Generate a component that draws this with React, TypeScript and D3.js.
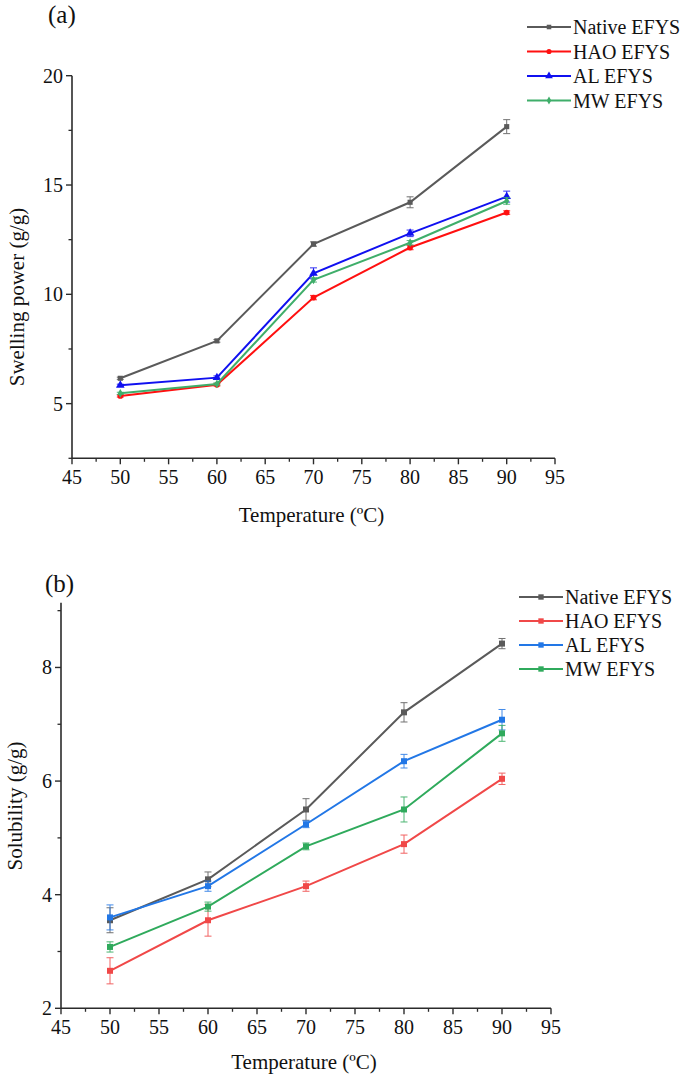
import React from "react";
import * as d3 from "d3";

// ---------- data ----------
const temps = [50, 60, 70, 80, 90];
const seriesNames = ["Native EFYS", "HAO EFYS", "AL EFYS", "MW EFYS"];

// (a) Swelling power (g/g)
const swellNative = [6.16, 7.87, 12.3, 14.21, 17.67];
const swellHAO = [5.35, 5.86, 9.85, 12.14, 13.74];
const swellAL = [5.84, 6.19, 10.96, 12.79, 14.47];
const swellMW = [5.47, 5.9, 10.66, 12.36, 14.27];
const swellNativeErr = [0.05, 0.06, 0.1, 0.25, 0.32];
const swellHAOErr = [0.05, 0.05, 0.1, 0.1, 0.08];
const swellALErr = [0.05, 0.08, 0.25, 0.15, 0.25];
const swellMWErr = [0.05, 0.05, 0.1, 0.1, 0.15];

// (b) Solubility (g/g)
const solNative = [3.55, 4.27, 5.5, 7.21, 8.42];
const solHAO = [2.66, 3.55, 4.15, 4.89, 6.04];
const solAL = [3.6, 4.15, 5.24, 6.35, 7.08];
const solMW = [3.08, 3.79, 4.85, 5.5, 6.84];
const solNativeErr = [0.22, 0.13, 0.19, 0.17, 0.09];
const solHAOErr = [0.23, 0.28, 0.09, 0.16, 0.1];
const solALErr = [0.22, 0.09, 0.06, 0.12, 0.18];
const solMWErr = [0.09, 0.08, 0.06, 0.22, 0.14];

const xTicks = [45, 50, 55, 60, 65, 70, 75, 80, 85, 90, 95];
const swellTicks = [5, 10, 15, 20];
const solTicks = [2, 4, 6, 8];

const FONT = "Liberation Serif, Times New Roman, serif";

type Series = {
  name: string;
  values: number[];
  errs: number[];
  color: string;
  symbol: d3.SymbolType;
  size: number;
};

type PanelProps = {
  label: string;
  yTitle: string;
  x0: number;
  x1: number;
  yTop: number;
  yBottom: number;
  yDomain: [number, number];
  yTickVals: number[];
  yMinorStep: number;
  series: Series[];
  legendX: number;
  legendY: number;
  legendGap: number;
  labelPos: [number, number];
  yTitlePos: [number, number];
  xTitleY: number;
  lineWidth: number;
};

function Panel(p: PanelProps) {
  const x = d3.scaleLinear().domain([45, 95]).range([p.x0, p.x1]);
  const y = d3.scaleLinear().domain(p.yDomain).range([p.yBottom, p.yTop]);
  const line = d3
    .line<number>()
    .x((_, i) => x(temps[i]))
    .y((v) => y(v));
  const minorX = d3.range(45, 95.01, 2.5).filter((v) => !xTicks.includes(v));
  const minorY = d3
    .range(p.yDomain[0], p.yDomain[1] + 0.001, p.yMinorStep)
    .filter((v) => !p.yTickVals.some((t) => Math.abs(t - v) < 1e-6));
  const axisColor = "#2b2b2b";
  return (
    <g style={{ fontFamily: FONT }}>
      <text x={p.labelPos[0]} y={p.labelPos[1]} fontSize={25} fill="#111">
        {p.label}
      </text>
      {/* axes */}
      <line x1={p.x0} x2={p.x0} y1={p.yTop} y2={p.yBottom} stroke={axisColor} strokeWidth={1.6} />
      <line x1={p.x0} x2={p.x1} y1={p.yBottom} y2={p.yBottom} stroke={axisColor} strokeWidth={1.6} />
      {xTicks.map((t) => (
        <g key={"xt" + t}>
          <line x1={x(t)} x2={x(t)} y1={p.yBottom} y2={p.yBottom + 6} stroke={axisColor} strokeWidth={1.4} />
          <text x={x(t)} y={p.yBottom + 26} textAnchor="middle" fontSize={20} fill="#111">
            {t}
          </text>
        </g>
      ))}
      {minorX.map((t) => (
        <line key={"xm" + t} x1={x(t)} x2={x(t)} y1={p.yBottom} y2={p.yBottom + 3.5} stroke={axisColor} strokeWidth={1.3} />
      ))}
      {p.yTickVals.map((t) => (
        <g key={"yt" + t}>
          <line x1={p.x0 - 6} x2={p.x0} y1={y(t)} y2={y(t)} stroke={axisColor} strokeWidth={1.4} />
          <text x={p.x0 - 9} y={y(t) + 7} textAnchor="end" fontSize={20} fill="#111">
            {t}
          </text>
        </g>
      ))}
      {minorY.map((t) => (
        <line key={"ym" + t} x1={p.x0 - 3.5} x2={p.x0} y1={y(t)} y2={y(t)} stroke={axisColor} strokeWidth={1.3} />
      ))}
      <text
        transform={`translate(${p.yTitlePos[0]},${p.yTitlePos[1]}) rotate(-90)`}
        textAnchor="middle"
        fontSize={21}
        fill="#111"
      >
        {p.yTitle}
      </text>
      <text x={(p.x0 + p.x1) / 2 - 2} y={p.xTitleY} textAnchor="middle" fontSize={21} fill="#111">
        Temperature (ºC)
      </text>
      {/* series */}
      {p.series.map((s) => (
        <g key={s.name}>
          <path d={line(s.values) || ""} fill="none" stroke={s.color} strokeWidth={p.lineWidth} />
          {s.values.map((v, i) => {
            const cx = x(temps[i]);
            const e = s.errs[i];
            return (
              <g key={i} stroke={s.color} strokeWidth={1} opacity={0.85}>
                <line x1={cx} x2={cx} y1={y(v - e)} y2={y(v + e)} />
                <line x1={cx - 3.5} x2={cx + 3.5} y1={y(v - e)} y2={y(v - e)} />
                <line x1={cx - 3.5} x2={cx + 3.5} y1={y(v + e)} y2={y(v + e)} />
              </g>
            );
          })}
          {s.values.map((v, i) => (
            <path
              key={"m" + i}
              d={d3.symbol().type(s.symbol).size(s.size)() || ""}
              transform={`translate(${x(temps[i])},${y(v)})`}
              fill={s.color}
            />
          ))}
        </g>
      ))}
      {/* legend */}
      {p.series.map((s, i) => {
        const ly = p.legendY + i * p.legendGap;
        return (
          <g key={"lg" + s.name}>
            <line x1={p.legendX} x2={p.legendX + 44} y1={ly} y2={ly} stroke={s.color} strokeWidth={p.lineWidth} />
            <path
              d={d3.symbol().type(s.symbol).size(s.size * 0.8)() || ""}
              transform={`translate(${p.legendX + 22},${ly})`}
              fill={s.color}
            />
            <text x={p.legendX + 46} y={ly + 7} fontSize={20} fill="#111">
              {s.name}
            </text>
          </g>
        );
      })}
    </g>
  );
}

export default function App() {
  const seriesA: Series[] = [
    { name: seriesNames[0], values: swellNative, errs: swellNativeErr, color: "#5a5a5a", symbol: d3.symbolSquare, size: 26 },
    { name: seriesNames[1], values: swellHAO, errs: swellHAOErr, color: "#ff1010", symbol: d3.symbolCircle, size: 26 },
    { name: seriesNames[2], values: swellAL, errs: swellALErr, color: "#1010f0", symbol: d3.symbolTriangle, size: 32 },
    { name: seriesNames[3], values: swellMW, errs: swellMWErr, color: "#3fae6a", symbol: d3.symbolDiamond, size: 22 },
  ];
  const seriesB: Series[] = [
    { name: seriesNames[0], values: solNative, errs: solNativeErr, color: "#5a5a5a", symbol: d3.symbolSquare, size: 36 },
    { name: seriesNames[1], values: solHAO, errs: solHAOErr, color: "#f04848", symbol: d3.symbolSquare, size: 36 },
    { name: seriesNames[2], values: solAL, errs: solALErr, color: "#2277e6", symbol: d3.symbolSquare, size: 36 },
    { name: seriesNames[3], values: solMW, errs: solMWErr, color: "#2faa5c", symbol: d3.symbolSquare, size: 36 },
  ];
  return (
    <svg width={685} height={1079} style={{ position: "absolute", left: 0, top: 0, background: "#fff" }}>
      <rect width={685} height={1079} fill="#fff" />
      <Panel
        label="(a)"
        yTitle="Swelling power (g/g)"
        x0={72}
        x1={555}
        yTop={75.7}
        yBottom={458.3}
        yDomain={[2.5, 20]}
        yTickVals={swellTicks}
        yMinorStep={2.5}
        series={seriesA}
        legendX={527}
        legendY={27}
        legendGap={24.5}
        labelPos={[48, 23]}
        yTitlePos={[24, 297]}
        xTitleY={522}
        lineWidth={2}
      />
      <Panel
        label="(b)"
        yTitle="Solubility (g/g)"
        x0={61}
        x1={551}
        yTop={602.7}
        yBottom={1008.3}
        yDomain={[2, 9.14]}
        yTickVals={solTicks}
        yMinorStep={1}
        series={seriesB}
        legendX={519}
        legendY={597}
        legendGap={24}
        labelPos={[45, 592]}
        yTitlePos={[22, 806]}
        xTitleY={1069}
        lineWidth={2}
      />
    </svg>
  );
}
